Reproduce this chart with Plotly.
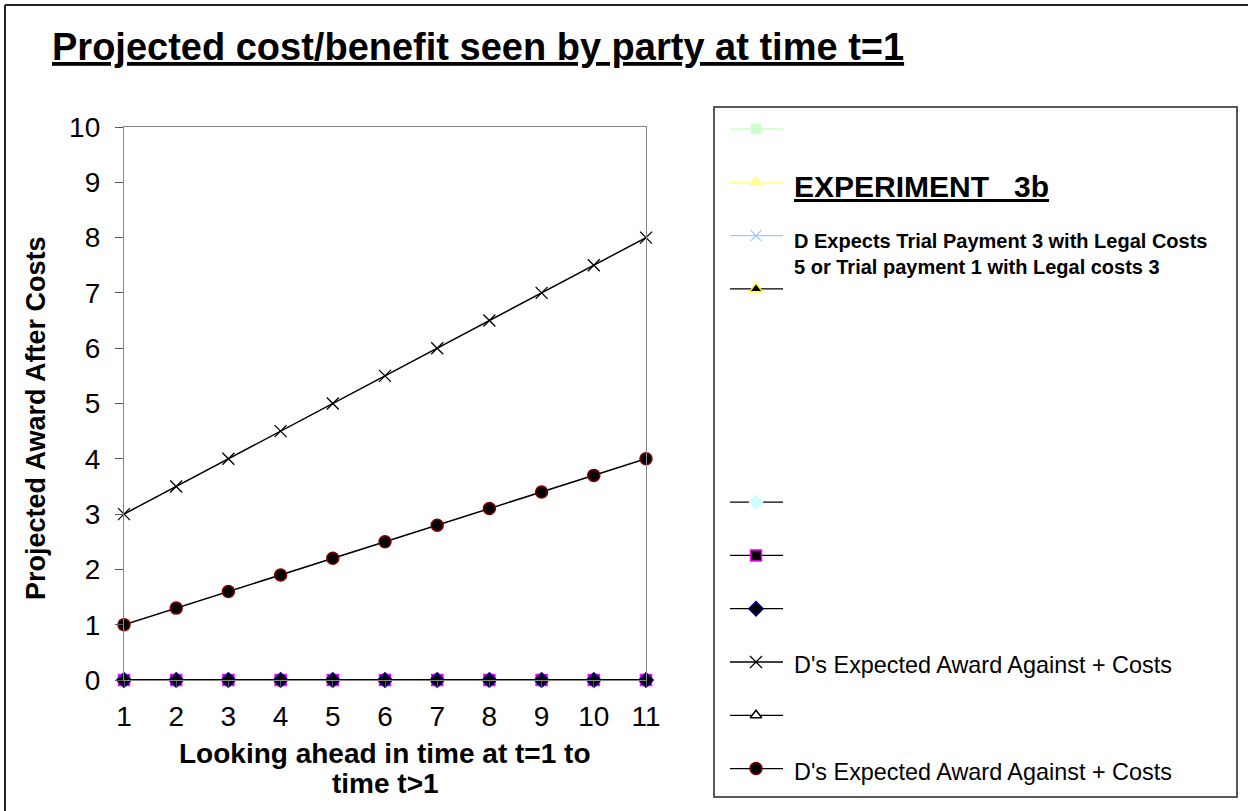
import plotly.graph_objects as go

W, H = 1248, 811
FONT = "Arial, Liberation Sans, sans-serif"

# time steps looking ahead from t=1
t = [1, 2, 3, 4, 5, 6, 7, 8, 9, 10, 11]

# series values
zeros = [0, 0, 0, 0, 0, 0, 0, 0, 0, 0, 0]
award_costs_x = [3, 3.5, 4, 4.5, 5, 5.5, 6, 6.5, 7, 7.5, 8]
award_costs_dot = [1, 1.3, 1.6, 1.9, 2.2, 2.5, 2.8, 3.1, 3.4, 3.7, 4]
first_only = [1, None, None, None, None, None, None, None, None, None, None]

experiment_label = "EXPERIMENT   3b"
expects_lines = ["D Expects Trial Payment 3 with Legal Costs",
                 "5 or Trial payment 1 with Legal costs 3"]
award_label = "D's Expected Award Against + Costs"

# (legend row, values, line colour, line width, marker symbol, fill, edge, size)
series = [
    (11, zeros, "black", 2.2, "triangle-up", "white", "black", 10),
    (0, zeros, "#ccffcc", 1.5, "square", "#ccffcc", "#ccffcc", 9),
    (7, zeros, "black", 2.2, "diamond", "#ccffff", "#ccffff", 10),
    (1, first_only, "#ffff99", 1.5, "triangle-up", "#ffff99", "#ffff99", 11),
    (2, first_only, "#99ccff", 1.5, "x-thin", "#99ccff", "#99ccff", 11),
    (3, zeros, "black", 2.2, "triangle-up", "black", "#ffff00", 11),
    (8, zeros, "black", 2.2, "square", "black", "#ff00ff", 11),
    (9, zeros, "black", 2.2, "diamond", "black", "#000080", 11),
    (10, award_costs_x, "black", 1.5, "x-thin", "black", "black", 12),
    (12, award_costs_dot, "black", 1.5, "circle", "black", "#800000", 12),
]

fig = go.Figure()

# plot area in pixels
px_l, px_r, px_t, px_b = 124, 646, 127, 680
# legend box in pixels
lg_l, lg_r, lg_t, lg_b = 714, 1237, 107, 797
row0, row_step = 22, 53.3

for row, vals, lc, lw, sym, fill, edge, size in series:
    mline = dict(color=edge, width=1.5 if sym != "x-thin" else 1.3)
    fig.add_trace(go.Scatter(
        x=t, y=vals, mode="lines+markers",
        line=dict(color=lc, width=lw),
        marker=dict(symbol=sym, color=fill, size=size, line=mline),
        cliponaxis=False, showlegend=False, hoverinfo="skip",
        xaxis="x", yaxis="y",
    ))
    # legend key
    ry = row0 + row * row_step
    fig.add_trace(go.Scatter(
        x=[16, 42, 69], y=[ry, ry, ry], mode="lines",
        line=dict(color=lc, width=1.3),
        showlegend=False, hoverinfo="skip", xaxis="x2", yaxis="y2",
    ))
    fig.add_trace(go.Scatter(
        x=[42], y=[ry], mode="markers",
        marker=dict(symbol=sym, color=fill, size=size, line=mline),
        showlegend=False, hoverinfo="skip", xaxis="x2", yaxis="y2",
    ))


def note(text, x, y, size, xref="paper", yref="paper", **kw):
    d = dict(text=text, x=x, y=y, xref=xref, yref=yref, showarrow=False,
             xanchor="center", yanchor="middle",
             font=dict(family=FONT, size=size, color="black"))
    d.update(kw)
    return d


annotations = [
    note("<u><b>Projected cost/benefit seen by party at time t=1</b></u>",
         50 / W, 1 - 24 / H, 38, xanchor="left", yanchor="top"),
    note("<b>Projected Award After Costs</b>", 36 / W, 1 - 418 / H, 27,
         textangle=-90),
    note("<b>Looking ahead in time at t=1 to</b>", 385 / W, 1 - 753 / H, 28),
    note("<b>time t>1</b>", 385 / W, 1 - 783 / H, 28),
    note("<u><b>" + experiment_label + "</b></u>", 78, row0 + 1 * row_step + 4,
         30, xref="x2", yref="y2", xanchor="left"),
    note("<b>" + expects_lines[0] + "</b>", 78, row0 + 2 * row_step + 5,
         20, xref="x2", yref="y2", xanchor="left"),
    note("<b>" + expects_lines[1] + "</b>", 78, row0 + 2 * row_step + 31,
         20, xref="x2", yref="y2", xanchor="left"),
    note(award_label, 78, row0 + 10 * row_step + 3, 23.4,
         xref="x2", yref="y2", xanchor="left"),
    note(award_label, 78, row0 + 12 * row_step + 3, 23.4,
         xref="x2", yref="y2", xanchor="left"),
]

shapes = [
    # outer chart border (top and left edges are what shows in the window)
    dict(type="line", xref="paper", yref="paper",
         x0=5 / W, x1=1, y0=1 - 5 / H, y1=1 - 5 / H,
         line=dict(color="#222", width=2)),
    dict(type="line", xref="paper", yref="paper",
         x0=5 / W, x1=5 / W, y0=0, y1=1 - 5 / H,
         line=dict(color="#222", width=2)),
    # legend box
    dict(type="rect", xref="paper", yref="paper",
         x0=lg_l / W, x1=lg_r / W, y0=1 - lg_b / H, y1=1 - lg_t / H,
         line=dict(color="#222", width=1.5)),
]

fig.update_layout(
    width=W, height=H,
    margin=dict(l=0, r=0, t=0, b=0),
    paper_bgcolor="white", plot_bgcolor="white",
    font=dict(family=FONT, color="black"),
    showlegend=False,
    xaxis=dict(
        domain=[px_l / W, px_r / W], range=[1, 11], automargin=False,
        tickvals=t, ticks="outside", ticklen=7, tickcolor="#555",
        ticklabelstandoff=4,
        showline=True, linecolor="#888", linewidth=1.3, mirror=True,
        showgrid=False, zeroline=False,
        tickfont=dict(family=FONT, size=28, color="black"),
    ),
    yaxis=dict(
        domain=[1 - px_b / H, 1 - px_t / H], range=[0, 10], automargin=False,
        tickvals=list(range(0, 11)), ticks="outside", ticklen=8, tickcolor="#555",
        ticklabelstandoff=9,
        showline=True, linecolor="#888", linewidth=1.3, mirror=True,
        showgrid=False, zeroline=False,
        tickfont=dict(family=FONT, size=28, color="black"),
    ),
    xaxis2=dict(domain=[lg_l / W, lg_r / W], range=[0, lg_r - lg_l],
                visible=False, fixedrange=True, automargin=False),
    yaxis2=dict(domain=[1 - lg_b / H, 1 - lg_t / H], range=[lg_b - lg_t, 0],
                visible=False, fixedrange=True, automargin=False),
    annotations=annotations,
    shapes=shapes,
)

# drop the page's default body margin so the figure sits at the window corner
fig.write_html("out.html", config={"displayModeBar": False},
               post_script="document.body.style.margin = '0';")
